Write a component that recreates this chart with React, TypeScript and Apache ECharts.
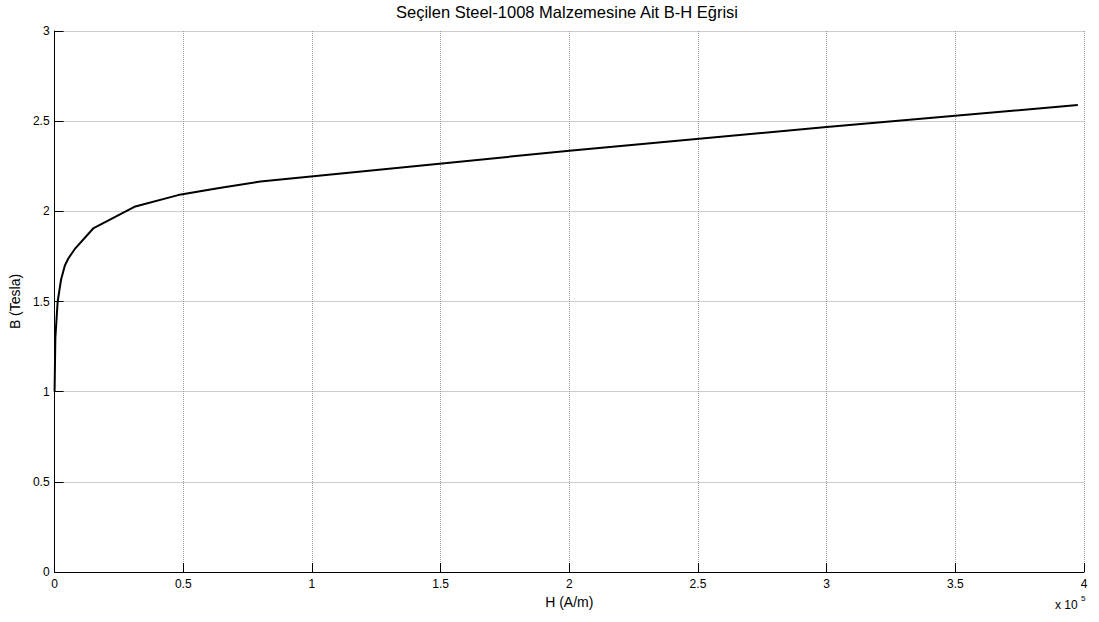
import React, { useEffect, useRef } from "react";
import * as echarts from "echarts";

// B-H curve samples: magnetic field strength H (A/m) and flux density B (T)
const hValues = [0, 300, 1200, 2500, 4000, 5400, 7800, 15000, 31000, 48000, 64000, 80000, 200000, 300000, 397600];
const bValues = [1.0, 1.3, 1.5, 1.62, 1.7, 1.74, 1.79, 1.905, 2.025, 2.09, 2.13, 2.165, 2.336, 2.468, 2.589];

const titleText = "Seçilen Steel-1008 Malzemesine Ait B-H Eğrisi";
const xName = "H (A/m)";
const yName = "B (Tesla)";
const xScaleNote = "x 10";
const xScaleExp = "5";

const FONT = "'Liberation Sans', Arial, Helvetica, sans-serif";

export default function App() {
  const ref = useRef<HTMLDivElement>(null);

  useEffect(() => {
    if (!ref.current) return;
    const chart = echarts.init(ref.current, undefined, { renderer: "svg" });
    const data = hValues.map((h, i) => [h, bValues[i]]);
    const gridLine = { show: true, lineStyle: { color: "#9a9a9a", type: [1, 1] as any, width: 1 } };
    chart.setOption({
      animation: false,
      backgroundColor: "#ffffff",
      title: {
        text: titleText,
        left: 567,
        top: 3,
        padding: 0,
        textAlign: "center",
        textStyle: { fontFamily: FONT, fontSize: 16.5, fontWeight: "normal", color: "#000" },
      },
      grid: { left: 53, right: 15, top: 31, bottom: 50 },
      xAxis: {
        type: "value",
        min: 0,
        max: 400000,
        interval: 50000,
        axisLine: { show: true, onZero: false, lineStyle: { color: "#000", width: 1 } },
        axisTick: { show: true, inside: true, length: 9, lineStyle: { color: "#000" } },
        axisLabel: {
          fontFamily: FONT,
          fontSize: 12,
          color: "#000",
          margin: 6,
          formatter: (v: number) => String(v / 100000),
        },
        splitLine: gridLine,
        name: xName,
        nameLocation: "middle",
        nameGap: 23,
        nameTextStyle: { fontFamily: FONT, fontSize: 14, color: "#000" },
      },
      yAxis: {
        type: "value",
        min: 0,
        max: 3,
        interval: 0.5,
        axisLine: { show: true, onZero: false, lineStyle: { color: "#000", width: 1 } },
        axisTick: { show: true, inside: true, length: 9, lineStyle: { color: "#000" } },
        axisLabel: { fontFamily: FONT, fontSize: 12, color: "#000", margin: 5 },
        splitLine: gridLine,
        name: yName,
        nameLocation: "middle",
        nameGap: 31,
        nameTextStyle: { fontFamily: FONT, fontSize: 14, color: "#000" },
      },
      graphic: [
        {
          type: "text",
          left: 1055,
          top: 599,
          style: { text: xScaleNote, fontFamily: FONT, fontSize: 12, fill: "#000" },
        },
        {
          type: "text",
          left: 1081,
          top: 594,
          style: { text: xScaleExp, fontFamily: FONT, fontSize: 8, fill: "#000" },
        },
      ],
      series: [
        {
          type: "line",
          data,
          showSymbol: false,
          symbol: "none",
          lineStyle: { color: "#000", width: 2 },
          z: 5,
        },
      ],
    });
    return () => chart.dispose();
  }, []);

  return <div ref={ref} style={{ position: "absolute", left: 0, top: 0, width: 1099, height: 622 }} />;
}
